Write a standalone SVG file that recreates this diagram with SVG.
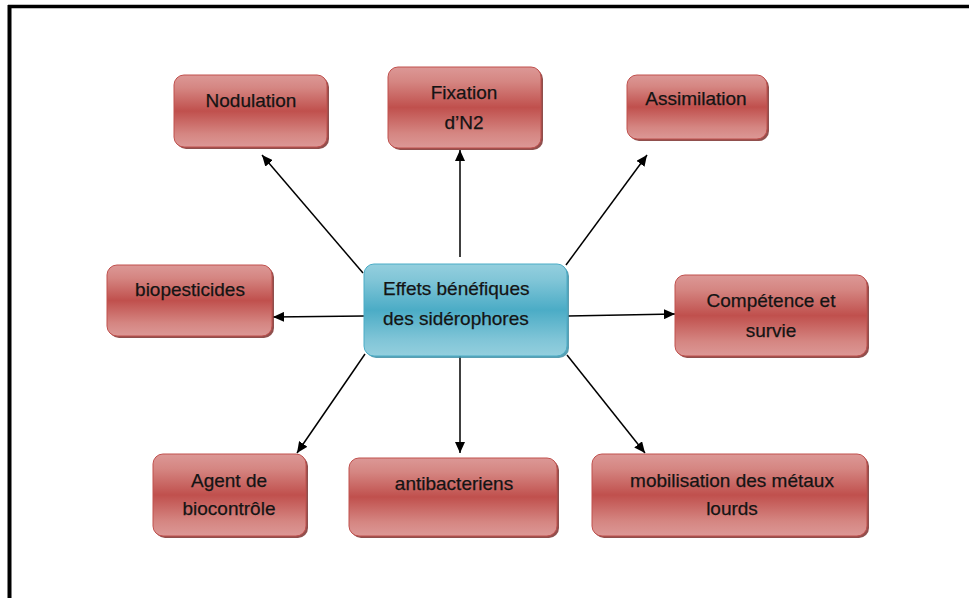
<svg xmlns="http://www.w3.org/2000/svg" width="969" height="598" viewBox="0 0 969 598">
<defs>
<linearGradient id="gRed" x1="0" y1="0" x2="0" y2="1">
<stop offset="0" stop-color="#dc9896"/>
<stop offset="0.18" stop-color="#d58682"/>
<stop offset="0.5" stop-color="#c0504d"/>
<stop offset="0.82" stop-color="#d58682"/>
<stop offset="1" stop-color="#dc9896"/>
</linearGradient>
<linearGradient id="gBlue" x1="0" y1="0" x2="0" y2="1">
<stop offset="0" stop-color="#94cfde"/>
<stop offset="0.18" stop-color="#80c5d7"/>
<stop offset="0.5" stop-color="#4bacc6"/>
<stop offset="0.82" stop-color="#80c5d7"/>
<stop offset="1" stop-color="#94cfde"/>
</linearGradient>
<marker id="arr" markerUnits="userSpaceOnUse" markerWidth="12" markerHeight="10" refX="11" refY="5" orient="auto">
<path d="M0,0 L11,5 L0,10 Z" fill="#000"/>
</marker>
</defs>
<style>
.shadow{fill:#7d302e;opacity:0.85}
.bshadow{fill:#3d8ea4;opacity:0.85}
.red{fill:url(#gRed);stroke:#c0504d;stroke-width:1}
.blue{fill:url(#gBlue);stroke:#4bacc6;stroke-width:1}
text{font-family:"Liberation Sans",Arial,sans-serif;font-size:19px;fill:#141414;stroke:#141414;stroke-width:0.25;text-anchor:middle}
.conn line{stroke:#000;stroke-width:1.5;marker-end:url(#arr)}
</style>
<rect width="969" height="598" fill="#fff"/>
<g id="frame">
<line x1="8" y1="6.5" x2="969" y2="6.5" stroke="#000" stroke-width="3.5"/>
<line x1="9.5" y1="5" x2="9.5" y2="598" stroke="#000" stroke-width="4"/>
</g>
<g id="connectors" class="conn">
<line x1="363" y1="273" x2="262" y2="155"/>
<line x1="460" y1="257" x2="460" y2="150"/>
<line x1="566" y1="265" x2="647" y2="155"/>
<line x1="364" y1="316" x2="273" y2="317"/>
<line x1="568" y1="316" x2="675" y2="314"/>
<line x1="365" y1="354" x2="297" y2="453"/>
<line x1="460" y1="353" x2="460" y2="453"/>
<line x1="567" y1="355" x2="645" y2="453"/>
</g>
<g id="center">
<rect class="bshadow" x="366" y="266" width="203" height="92" rx="10"/>
<rect class="blue" x="364" y="264" width="203" height="92" rx="10"/>
<text x="383" y="295" style="text-anchor:start">Effets bénéfiques</text>
<text x="383" y="325" style="text-anchor:start">des sidérophores</text>
</g>
<g id="nodulation">
<rect class="shadow" x="176" y="77" width="153" height="72" rx="10"/>
<rect class="red" x="174" y="75" width="153" height="72" rx="10"/>
<text x="251" y="107">Nodulation</text>
</g>
<g id="fixation">
<rect class="shadow" x="390" y="69" width="153" height="81" rx="10"/>
<rect class="red" x="388" y="67" width="153" height="81" rx="10"/>
<text x="464" y="99">Fixation</text>
<text x="464" y="129">d’N2</text>
</g>
<g id="assimilation">
<rect class="shadow" x="629" y="77" width="140" height="64" rx="10"/>
<rect class="red" x="627" y="75" width="140" height="64" rx="10"/>
<text x="696" y="105">Assimilation</text>
</g>
<g id="biopesticides">
<rect class="shadow" x="109" y="267" width="165" height="71" rx="10"/>
<rect class="red" x="107" y="265" width="165" height="71" rx="10"/>
<text x="190" y="296">biopesticides</text>
</g>
<g id="competence">
<rect class="shadow" x="677" y="277" width="192" height="81" rx="10"/>
<rect class="red" x="675" y="275" width="192" height="81" rx="10"/>
<text x="771" y="307">Compétence et</text>
<text x="771" y="337">survie</text>
</g>
<g id="agent">
<rect class="shadow" x="155" y="456" width="153" height="82" rx="10"/>
<rect class="red" x="153" y="454" width="153" height="82" rx="10"/>
<text x="229" y="487">Agent de</text>
<text x="229" y="515">biocontrôle</text>
</g>
<g id="antibacteriens">
<rect class="shadow" x="351" y="460" width="208" height="78" rx="10"/>
<rect class="red" x="349" y="458" width="208" height="78" rx="10"/>
<text x="454" y="490">antibacteriens</text>
</g>
<g id="mobilisation">
<rect class="shadow" x="594" y="456" width="275" height="82" rx="10"/>
<rect class="red" x="592" y="454" width="275" height="82" rx="10"/>
<text x="732" y="487">mobilisation des métaux</text>
<text x="732" y="515">lourds</text>
</g>
</svg>
